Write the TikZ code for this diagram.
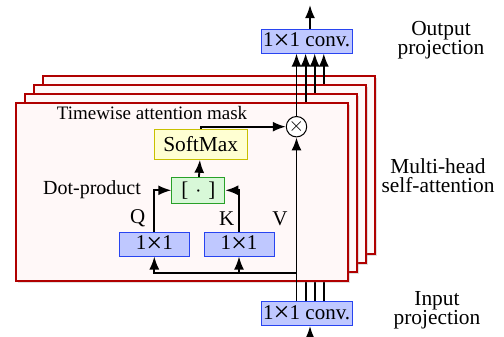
\documentclass[tikz,border=0pt]{standalone}
\usepackage{fontspec}
\setmainfont{Liberation Serif}
\usepackage{graphicx}
\usepackage{tikz}
\usetikzlibrary{calc,arrows.meta,shadows}
\definecolor{headred}{HTML}{B00000}
\definecolor{headbg}{HTML}{FFF8F8}
\definecolor{convfill}{HTML}{BFC8FF}
\definecolor{convline}{HTML}{2844F0}
\definecolor{dotfill}{HTML}{D8F8D8}
\definecolor{dotline}{HTML}{28A028}
\definecolor{smfill}{HTML}{FFFFD2}
\definecolor{smline}{HTML}{C8C000}
\newcommand{\bigx}{\raisebox{-1.3pt}{\scalebox{1.35}{×}}}
\tikzset{
  head/.style={draw=headred,line width=1.1pt,fill=headbg,drop shadow={shadow xshift=0.8pt,shadow yshift=-0.8pt,opacity=0.25}},
  conv/.style={draw=convline,fill=convfill,line width=0.5pt,inner sep=1pt,minimum height=12pt,font=\fontsize{10.5}{12}\selectfont},
  dotbox/.style={draw=dotline,fill=dotfill,line width=0.5pt,minimum width=26.5pt,minimum height=13pt,inner sep=1pt,font=\fontsize{10.5}{12}\selectfont},
  smbox/.style={draw=smline,fill=smfill,line width=0.6pt,minimum width=46.5pt,minimum height=15pt,inner sep=1pt,font=\fontsize{10.7}{12}\selectfont},
  mulnd/.style={circle,draw,fill=white,line width=0.5pt,minimum size=8.5pt,inner sep=0pt},
  lbl/.style={inner sep=0pt,font=\fontsize{10.5}{12}\selectfont},
  side/.style={align=center,inner sep=0pt,font=\fontsize{10.7}{9.5}\selectfont},
  flow/.style={line width=0.9pt,-{Latex[length=6.5pt,width=5pt]}}
}

\begin{document}
\begin{tikzpicture}[x=0.5pt,y=-0.5pt]
\useasboundingbox (0,0) rectangle (504,337);
% projections
\node[conv,minimum width=43.5pt] (in) at (306.7,313.5) {1\bigx1 conv.};
\node[conv,minimum width=43.5pt] (out) at (306.7,41) {1\bigx1 conv.};
\coordinate (outtip) at (310,5); \coordinate (intail) at (310,337);
\draw[flow] (out.north -| outtip) -- (outtip);
\draw[flow] (intail) -- (in.south -| intail);
% heads, back to front
\foreach \i in {3,2,1}{
  \filldraw[head] ({16+9*\i},{103-9*\i}) rectangle ({348+9*\i},{281-9*\i});
  \coordinate (h\i) at ({296.5+9.1*\i},0);
  \draw[flow] (in.north -| h\i) -- (out.south -| h\i);
}
\filldraw[head] (16,103) rectangle (348,281);
\coordinate (h0) at (296.5,0);
% front head
\node[conv,minimum width=35pt] (q) at (154.3,244) {1\bigx1};
\node[conv,minimum width=35pt] (k) at (239,244) {1\bigx1};
\node[dotbox] (dot) at (198.3,190.3) {[\hspace{3.5pt}$\cdot$\hspace{3.5pt}]};
\node[smbox] (soft) at (200.7,144.2) {SoftMax};
\node[mulnd] (mul) at (296.5,126.7) {$\times$};
\node[lbl] (ql) at (137.7,218.3) {Q}; \node[lbl] (kl) at (226.7,218.3) {K}; \node[lbl] (vl) at (280,218.3) {V};
\node[lbl,font=\fontsize{9.5}{12}\selectfont] (mask) at (152,113.3) {Timewise attention mask};
\node[lbl,font=\fontsize{10}{12}\selectfont] (dp) at (92,189.3) {Dot-product};
\coordinate (br) at (296.5,272.7);
\draw[flow] (in.north -| h0) -- (mul.south);
\draw[flow] (mul.north) -- (out.south -| h0);
\draw[flow] (br) -| (q.south); \draw[flow] (br -| k.south) -- (k.south);
\draw[flow] (q.north) |- (dot.west); \draw[flow] (k.north) |- (dot.east);
\draw[flow] (dot) -- (soft); \draw[flow] (soft.north) |- (mul.west);
% side labels
\node[side] (outlbl) at (441,39.7) {Output\\projection};
\node[side] (mhlbl) at (438,176) {Multi-head\\self-attention};
\node[side] (inlbl) at (437,310.6) {Input\\projection};
\end{tikzpicture}
\end{document}
